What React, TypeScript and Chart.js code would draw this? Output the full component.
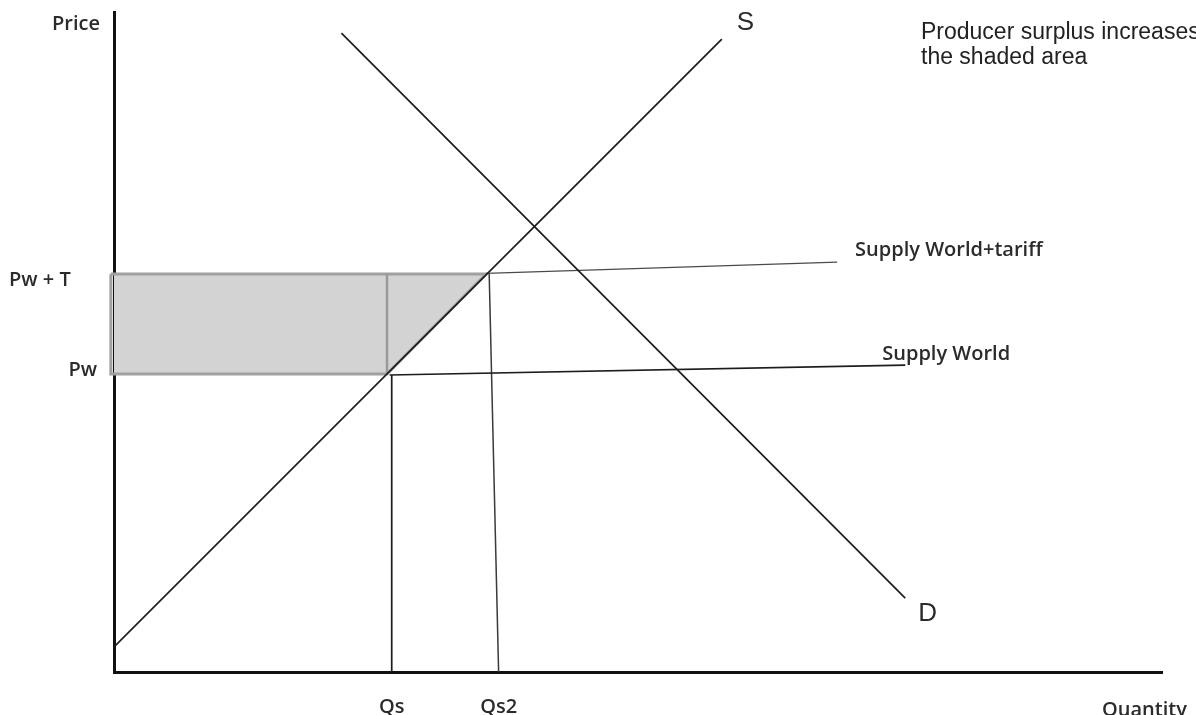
import React, { useEffect, useRef } from "react";
import { Chart, registerables } from "chart.js";

Chart.register(...registerables);

// ---- data (diagram coordinates: quantity 0..100, price 0..100) ----
const SUPPLY_X = [0, 58.0];
const SUPPLY_Y = [3.8, 95.9];
const DEMAND_X = [21.7, 75.5];
const DEMAND_Y = [96.8, 11.2];
const WORLD_X = [26.3, 75.5];
const WORLD_Y = [45.0, 46.5];
const TARIFF_X = [35.5, 69.0];
const TARIFF_Y = [60.4, 62.1];
const QS_DROP_X = [26.5, 26.5];
const QS_DROP_Y = [45.0, 0];
const QS2_DROP_X = [35.8, 36.7];
const QS2_DROP_Y = [60.3, 0];
const SURPLUS_X = [-0.3, 35.5, 26.05, -0.3, -0.3];
const SURPLUS_Y = [60.3, 60.3, 45.15, 45.15, 60.3];
const DIVIDER_X = [26.05, 26.05];
const DIVIDER_Y = [60.3, 45.15];

const PRICE_LABELS = ["Pw + T", "Pw"];
const PRICE_VALUES = [60.3, 45.15];
const QTY_LABELS = ["Qs", "Qs2"];
const QTY_VALUES = [26.5, 36.7];

const SUPPLY_LABEL = "S";
const DEMAND_LABEL = "D";
const WORLD_LABEL = "Supply World";
const TARIFF_LABEL = "Supply World+tariff";
const NOTE_LINES = ["Producer surplus increases", "the shaded area"];
const Y_TITLE = "Price";
const X_TITLE = "Quantity";

const pts = (xs: number[], ys: number[]) => xs.map((x, i) => ({ x, y: ys[i] }));

const LABEL_FONT = "600 20px 'Open Sans', sans-serif";
const TEXT_COLOR = "#2b2b2b";

const textPlugin = {
  id: "diagramText",
  afterDraw(chart: any) {
    const { ctx, scales } = chart;
    const xs = scales.x;
    const ys = scales.y;
    const px = (v: number) => xs.getPixelForValue(v);
    const py = (v: number) => ys.getPixelForValue(v);
    ctx.save();
    ctx.fillStyle = TEXT_COLOR;
    ctx.textBaseline = "alphabetic";
    ctx.textAlign = "left";
    ctx.font = LABEL_FONT;
    // price labels
    ctx.fillText(PRICE_LABELS[0], 9, py(PRICE_VALUES[0]) + 12);
    ctx.textAlign = "right";
    ctx.fillText(PRICE_LABELS[1], 97, py(PRICE_VALUES[1]) + 2);
    ctx.textAlign = "left";
    // axis titles
    ctx.fillText(Y_TITLE, 52, 30);
    ctx.fillText(X_TITLE, 1102, 716);
    // curve labels
    ctx.fillText(TARIFF_LABEL, px(TARIFF_X[1]) + 18, py(TARIFF_Y[1]) - 6);
    ctx.fillText(WORLD_LABEL, px(WORLD_X[1]) - 23, py(WORLD_Y[1]) - 5);
    ctx.font = "26px 'Liberation Sans', Arial, sans-serif";
    ctx.fillText(SUPPLY_LABEL, px(SUPPLY_X[1]) + 15, py(SUPPLY_Y[1]) - 9);
    ctx.fillText(DEMAND_LABEL, px(DEMAND_X[1]) + 13, py(DEMAND_Y[1]) + 23);
    ctx.font = "23px 'Liberation Sans', Arial, sans-serif";
    ctx.fillStyle = "#222";
    ctx.fillText(NOTE_LINES[0], 921, 39);
    ctx.fillText(NOTE_LINES[1], 921, 64);
    ctx.restore();
  },
};

const line = (xs: number[], ys: number[], color: string, width: number, extra: any = {}) => ({
  data: pts(xs, ys),
  showLine: true,
  borderColor: color,
  borderWidth: width,
  pointRadius: 0,
  pointHoverRadius: 0,
  fill: false,
  tension: 0,
  ...extra,
});

export default function App() {
  const ref = useRef<HTMLCanvasElement | null>(null);
  useEffect(() => {
    document.body.style.margin = "0";
    if (!ref.current) return;
    const chart = new Chart(ref.current, {
      type: "scatter",
      data: {
        datasets: [
          line(SUPPLY_X, SUPPLY_Y, "#1c1c1c", 1.7),
          line(DEMAND_X, DEMAND_Y, "#1c1c1c", 1.7),
          line(WORLD_X, WORLD_Y, "#1c1c1c", 1.7),
          line(TARIFF_X, TARIFF_Y, "#4a4a4a", 1.3),
          line(QS_DROP_X, QS_DROP_Y, "#1c1c1c", 1.7),
          line(QS2_DROP_X, QS2_DROP_Y, "#3a3a3a", 1.5),
          line(DIVIDER_X, DIVIDER_Y, "#999999", 2.5),
          line(SURPLUS_X, SURPLUS_Y, "#a0a0a0", 3, {
            fill: "shape",
            backgroundColor: "#d3d3d3",
            clip: false,
          }),
        ],
      },
      options: {
        animation: false,
        responsive: false,
        events: [],
        layout: { padding: { top: 12, right: 34, left: 0, bottom: 0 } },
        plugins: { legend: { display: false }, tooltip: { enabled: false } },
        scales: {
          x: {
            type: "linear",
            min: 0,
            max: 100,
            grid: { display: false, drawTicks: false },
            border: { display: true, color: "#111", width: 3 },
            afterFit: (s: any) => {
              s.height = 43;
            },
            afterBuildTicks: (s: any) => {
              s.ticks = QTY_VALUES.map((v) => ({ value: v }));
            },
            ticks: {
              autoSkip: false,
              maxRotation: 0,
              padding: 23,
              color: TEXT_COLOR,
              font: { family: "'Open Sans', sans-serif", size: 20, weight: "600" },
              callback: (_v: any, i: number) => QTY_LABELS[i],
            },
          },
          y: {
            type: "linear",
            min: 0,
            max: 100,
            grid: { display: false, drawTicks: false },
            border: { display: true, color: "#111", width: 3 },
            afterFit: (s: any) => {
              s.width = 114;
            },
            ticks: { display: false },
          },
        },
      },
      plugins: [textPlugin],
    } as any);
    return () => chart.destroy();
  }, []);
  return <canvas ref={ref} width={1196} height={715} style={{ display: "block" }} />;
}
